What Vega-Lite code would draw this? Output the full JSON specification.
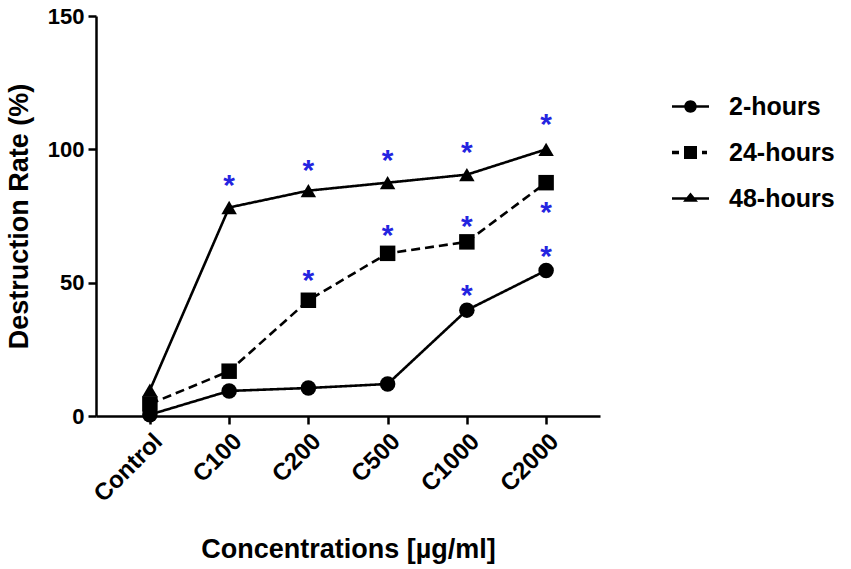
{
  "$schema": "https://vega.github.io/schema/vega-lite/v6.json",
  "width": 504,
  "height": 400,
  "autosize": {"type": "none"},
  "padding": {"left": 96, "top": 16, "right": 251, "bottom": 153},
  "background": "white",
  "config": {
    "view": {"stroke": null},
    "font": "Liberation Sans",
    "axis": {
      "grid": false,
      "domainColor": "black",
      "domainWidth": 2.5,
      "tickColor": "black",
      "tickWidth": 2.5,
      "tickSize": 8,
      "labelColor": "black",
      "labelFont": "Liberation Sans",
      "labelFontWeight": "bold",
      "titleColor": "black",
      "titleFont": "Liberation Sans",
      "titleFontWeight": "bold"
    }
  },
  "datasets": {
    "rates": [
      {"conc": "Control", "series": "2-hours", "value": 0.5},
      {"conc": "C100", "series": "2-hours", "value": 9.4},
      {"conc": "C200", "series": "2-hours", "value": 10.5},
      {"conc": "C500", "series": "2-hours", "value": 12},
      {"conc": "C1000", "series": "2-hours", "value": 39.7},
      {"conc": "C2000", "series": "2-hours", "value": 54.6},
      {"conc": "Control", "series": "24-hours", "value": 4.5},
      {"conc": "C100", "series": "24-hours", "value": 16.8},
      {"conc": "C200", "series": "24-hours", "value": 43.4},
      {"conc": "C500", "series": "24-hours", "value": 61},
      {"conc": "C1000", "series": "24-hours", "value": 65.3},
      {"conc": "C2000", "series": "24-hours", "value": 87.5},
      {"conc": "Control", "series": "48-hours", "value": 9.7},
      {"conc": "C100", "series": "48-hours", "value": 78.2},
      {"conc": "C200", "series": "48-hours", "value": 84.5},
      {"conc": "C500", "series": "48-hours", "value": 87.5},
      {"conc": "C1000", "series": "48-hours", "value": 90.5},
      {"conc": "C2000", "series": "48-hours", "value": 100}
    ],
    "stars": [
      {"conc": "C100", "star": 88.1},
      {"conc": "C200", "star": 93.7},
      {"conc": "C500", "star": 97.5},
      {"conc": "C1000", "star": 100.5},
      {"conc": "C2000", "star": 111},
      {"conc": "C200", "star": 52.5},
      {"conc": "C500", "star": 69.4},
      {"conc": "C1000", "star": 72.7},
      {"conc": "C2000", "star": 78},
      {"conc": "C1000", "star": 46.9},
      {"conc": "C2000", "star": 61.5}
    ]
  },
  "resolve": {"scale": {"shape": "independent"}, "legend": {"shape": "independent"}},
  "layer": [
    {
      "data": {"name": "rates"},
      "mark": {"type": "line", "color": "black", "strokeWidth": 2.6},
      "encoding": {
        "x": {
          "field": "conc", "type": "ordinal",
          "sort": ["Control", "C100", "C200", "C500", "C1000", "C2000"],
          "scale": {"type": "point", "padding": 0.68},
          "axis": {"labelAngle": -45, "labelFontSize": 24, "labelPadding": 5, "title": "Concentrations [µg/ml]", "titleFontSize": 27, "titlePadding": 30}
        },
        "y": {
          "field": "value", "type": "quantitative",
          "scale": {"domain": [0, 150], "nice": false},
          "axis": {"values": [0, 50, 100, 150], "labelFontSize": 22, "labelPadding": 4, "title": "Destruction Rate (%)", "titleFontSize": 27, "titlePadding": 14}
        },
        "detail": {"field": "series"},
        "strokeDash": {"condition": {"test": "datum.series === '24-hours'", "value": [9, 5]}, "value": [1, 0]},
        "strokeWidth": {"condition": {"test": "datum.series === '24-hours'", "value": 4}, "value": 2.6}
      }
    },
    {
      "data": {"name": "rates"},
      "mark": {"type": "point", "filled": true, "color": "black", "opacity": 1, "size": 240},
      "encoding": {
        "x": {"field": "conc", "type": "ordinal", "sort": ["Control", "C100", "C200", "C500", "C1000", "C2000"]},
        "y": {"field": "value", "type": "quantitative"},
        "shape": {
          "field": "series", "type": "nominal",
          "scale": {"domain": ["2-hours", "24-hours", "48-hours"], "range": ["circle", "square", "triangle-up"]},
          "legend": null
        }
      }
    },
    {
      "data": {"name": "rates"},
      "mark": {"type": "point", "filled": true, "color": "black", "opacity": 0, "size": 100},
      "encoding": {
        "x": {"field": "conc", "type": "ordinal", "sort": ["Control", "C100", "C200", "C500", "C1000", "C2000"]},
        "y": {"field": "value", "type": "quantitative"},
        "shape": {
          "field": "series", "type": "nominal",
          "scale": {
            "domain": ["2-hours", "24-hours", "48-hours"],
            "range": [
              "M-3.7,-0.27H3.7V0.27H-3.7ZM1.25,0A1.25,1.25 0 1 1 -1.25,0A1.25,1.25 0 1 1 1.25,0Z",
              "M-3.7,-0.35H-2.3V0.35H-3.7ZM2.3,-0.35H3.3V0.35H2.3ZM-1.3,-1.3H1.3V1.3H-1.3Z",
              "M-3.7,-0.27H3.7V0.27H-3.7ZM0,-1.2L1.5,0.65H-1.5Z"
            ]
          },
          "legend": {
            "title": null,
            "orient": "none",
            "legendX": 582,
            "legendY": 78,
            "symbolSize": 100,
            "symbolOpacity": 1,
            "symbolFillColor": "black",
            "symbolStrokeColor": "black",
            "labelFontSize": 25,
            "labelFontWeight": "bold",
            "labelColor": "black",
            "labelFont": "Liberation Sans",
            "labelOffset": 26,
            "rowPadding": 20
          }
        }
      }
    },
    {
      "data": {"name": "stars"},
      "mark": {"type": "text", "text": "*", "color": "#2424e0", "fontSize": 30, "fontWeight": "bold", "font": "Liberation Sans", "baseline": "alphabetic", "dy": 14},
      "encoding": {
        "x": {"field": "conc", "type": "ordinal", "sort": ["Control", "C100", "C200", "C500", "C1000", "C2000"]},
        "y": {"field": "star", "type": "quantitative"}
      }
    }
  ]
}
